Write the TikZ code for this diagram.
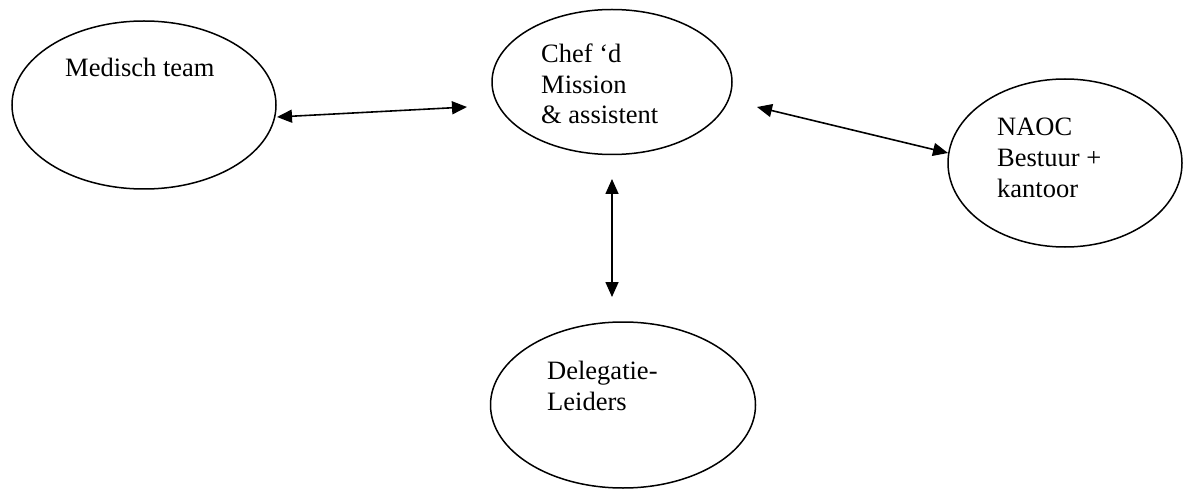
\documentclass[tikz,border=0pt]{standalone}
\usepackage{fontspec}
\setmainfont{Liberation Serif}
\usetikzlibrary{shapes.geometric, arrows.meta}

\begin{document}
\begin{tikzpicture}
    [
        x=1pt, y=-1pt,
        group/.style={ellipse, draw, line width=1.5pt, inner sep=0pt},
        caption/.style={anchor=base west, align=left, inner sep=0pt, font=\fontsize{26.5}{30.8}\selectfont},
        link/.style={{Triangle[length=15pt, width=13pt]}-{Triangle[length=15pt, width=13pt]}, line width=1.6pt},
    ]
    \useasboundingbox (0,0) rectangle (1183,489);

    \node[group, minimum width=264pt, minimum height=168pt] (M) at (144,105) {};
    \node[group, minimum width=240pt, minimum height=145pt] (C) at (612,82) {};
    \node[group, minimum width=234pt, minimum height=168pt] (N) at (1065,163) {};
    \node[group, minimum width=265pt, minimum height=166pt] (D) at (623,405) {};

    % captions sit on the baseline of their last line
    \node[caption] (Mt) at (65,77) {Medisch team};
    \node[caption] (Ct) at (541,124) {Chef ‘d\\Mission\\\& assistent};
    \node[caption] (Nt) at (997,197) {NAOC\\Bestuur +\\kantoor};
    \node[caption] (Dt) at (547,410) {Delegatie-\\Leiders};

    \coordinate (M1) at (277,117);
    \coordinate (C1) at (467,107);
    \coordinate (C2) at (757,107);
    \coordinate (N1) at (948,153);
    \coordinate (C3) at (612,179);
    \coordinate (D1) at (612,297);

    \draw[link] (M1) -- (C1);
    \draw[link] (C2) -- (N1);
    \draw[link] (C3) -- (D1);
\end{tikzpicture}
\end{document}
